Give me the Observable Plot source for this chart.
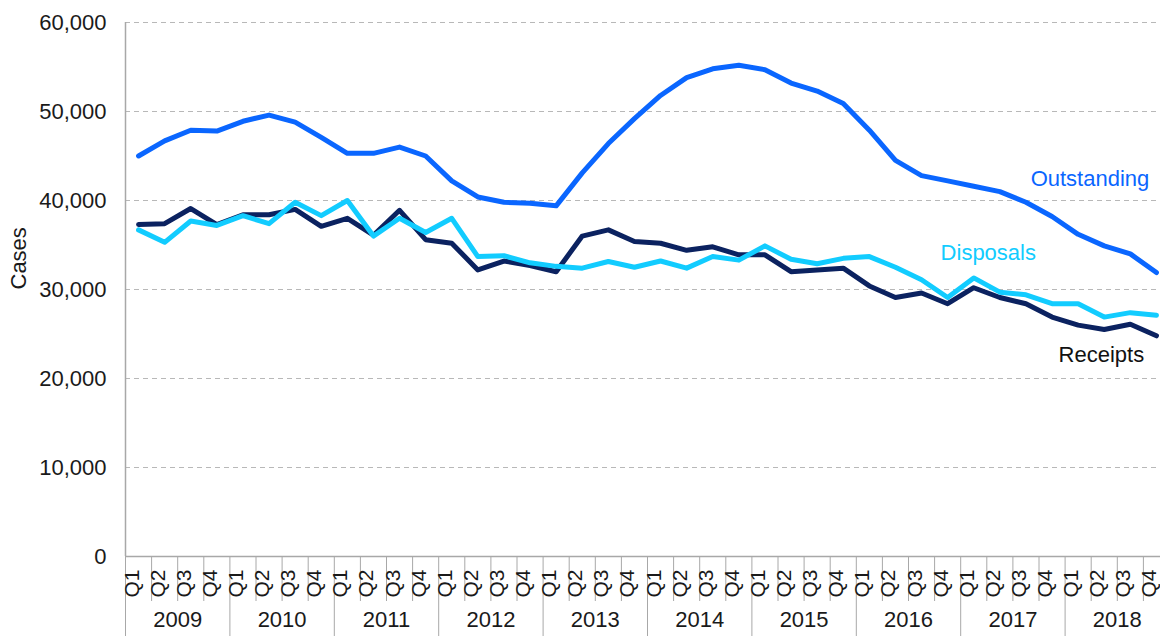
<!DOCTYPE html>
<html><head><meta charset="utf-8">
<script src="https://cdn.jsdelivr.net/npm/d3@7"></script>
<script src="https://cdn.jsdelivr.net/npm/@observablehq/plot@0.6"></script>
<style>html,body{margin:0;padding:0;background:#fff;overflow:hidden}</style>
</head><body><div id="chart"></div>
<script>
const years = ["2009","2010","2011","2012","2013","2014","2015","2016","2017","2018"];
const quarterNames = ["Q1","Q2","Q3","Q4"];
const outstanding = [45000,46700,47900,47800,48900,49600,48800,47100,45300,45300,46000,45000,
  42200,40400,39800,39700,39400,43100,46400,49200,51800,53800,54800,55200,54700,53200,52300,50900,
  47900,44500,42800,42200,41600,41000,39800,38200,36200,34900,34000,31900];
const disposals = [36700,35300,37700,37200,38300,37400,39800,38300,40000,36000,38000,36400,
  38000,33700,33800,33000,32600,32400,33150,32500,33200,32400,33700,33300,34900,33400,32900,33500,
  33700,32500,31100,29100,31300,29700,29400,28400,28400,26900,27400,27100];
const receipts = [37300,37400,39100,37300,38400,38400,39000,37100,38000,36100,38900,35600,
  35200,32200,33200,32700,32000,36000,36700,35400,35200,34400,34800,33900,33900,32000,32200,32400,
  30400,29100,29600,28400,30200,29100,28400,26900,26000,25500,26100,24800];
const yTicks = [0,10000,20000,30000,40000,50000,60000];

const quarters = years.flatMap(y => quarterNames.map(q => ({year: y, q})));
const quarterBounds = d3.range(quarters.length + 1).map(i => i - 0.5).filter((d, i) => i % 4 !== 0);
const yearBounds = d3.range(years.length + 1).map(i => i * 4 - 0.5);

const C_OUT = "#0a66ff", C_DIS = "#12ccff", C_REC = "#0b2260";
const FONT = 22;

const chart = Plot.plot({
  width: 1160, height: 636,
  marginLeft: 125, marginRight: 0, marginTop: 22, marginBottom: 80,
  x: {type: "linear", domain: [-0.5, quarters.length - 0.5], range: [125, 1169]},
  y: {domain: [0, 60000], range: [556, 22]},
  style: {fontFamily: "'Liberation Sans', Arial, sans-serif", fontSize: FONT + "px", background: "#fff", color: "#1a1a1a", overflow: "hidden"},
  marks: [
    Plot.ruleY(yTicks.filter(d => d > 0), {stroke: "#b8b8b8", strokeDasharray: "5,4", strokeWidth: 1.2}),
    Plot.axisY(yTicks, {tickSize: 0, tickPadding: 19, tickFormat: d3.format(","), fontSize: FONT, fill: "#1a1a1a", label: null}),
    Plot.axisX(quarterBounds, {tickSize: 45, tickFormat: () => "", stroke: "#a8a8a8", label: null}),
    Plot.axisX(yearBounds, {tickSize: 80, tickFormat: () => "", stroke: "#a8a8a8", label: null}),
    Plot.ruleY([0], {stroke: "#a8a8a8", strokeWidth: 1.5}),
    Plot.ruleX([-0.5], {stroke: "#a8a8a8", strokeWidth: 1.5}),
    Plot.text(quarters, {x: (d, i) => i, frameAnchor: "bottom", dy: 27, rotate: -90, text: d => d.q, fontSize: 21, fill: "#1a1a1a"}),
    Plot.text(years, {x: (d, i) => i * 4 + 1.5, frameAnchor: "bottom", dy: 70, text: d => d, fontSize: FONT, fill: "#1a1a1a"}),
    Plot.text(["Cases"], {frameAnchor: "left", dx: -107, rotate: -90, text: d => d, fontSize: FONT, fill: "#1a1a1a"}),
    Plot.line(receipts, {x: (d, i) => i, y: d => d, stroke: C_REC, strokeWidth: 5, strokeLinejoin: "round"}),
    Plot.line(disposals, {x: (d, i) => i, y: d => d, stroke: C_DIS, strokeWidth: 5, strokeLinejoin: "round"}),
    Plot.line(outstanding, {x: (d, i) => i, y: d => d, stroke: C_OUT, strokeWidth: 5, strokeLinejoin: "round"}),
    Plot.text(["Outstanding"], {x: 34.18, y: 42470, text: d => d, textAnchor: "start", fill: C_OUT, fontSize: FONT}),
    Plot.text(["Disposals"], {x: 30.73, y: 34160, text: d => d, textAnchor: "start", fill: C_DIS, fontSize: FONT}),
    Plot.text(["Receipts"], {x: 35.25, y: 22700, text: d => d, textAnchor: "start", fill: "#111", fontSize: FONT})
  ]
});
document.getElementById("chart").appendChild(chart);
</script>
</body></html>
